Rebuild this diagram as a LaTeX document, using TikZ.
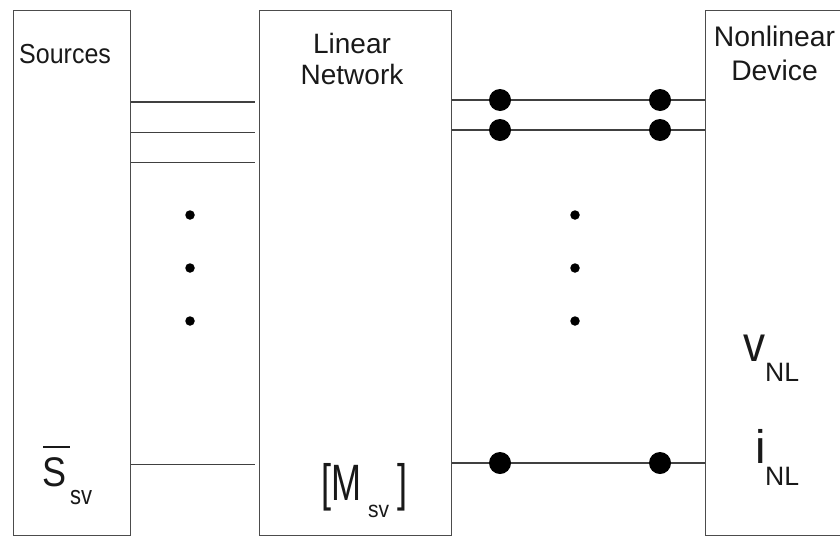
\documentclass[tikz,border=0pt]{standalone}
\usepackage{fontspec}
\setmainfont{Liberation Sans}
\begin{document}
\begin{tikzpicture}[x=1pt,y=-1pt,
  blockbox/.style={draw=black!70,line width=1.3pt,rectangle,inner sep=0pt,anchor=north west},
  wire/.style={draw=black!75,line width=1.3pt},
  bigdot/.style={circle,fill=black,inner sep=0pt,minimum size=22pt},
  smalldot/.style={circle,fill=black,inner sep=0pt,minimum size=9.5pt},
  lbl/.style={inner sep=0pt,anchor=base west,text=black!90},
  title/.style={inner sep=0pt,align=center,text=black!90}]
\useasboundingbox (0,0) rectangle (840,536);
\clip (0,0) rectangle (840,536);
% blocks
\node[blockbox,minimum width=117pt,minimum height=525pt] (src) at (13,10) {};
\node[blockbox,minimum width=192pt,minimum height=525pt] (lin) at (259,10) {};
\node[blockbox,minimum width=160pt,minimum height=525pt] (nld) at (705,10) {};
% titles
\node[lbl,font=\fontsize{25}{30}\selectfont] (tsrc) at (19,63) {\scalebox{1}[1.1]{Sources}};
\node[title,anchor=base,font=\fontsize{28}{31}\selectfont] (tlin) at (352,84) {Linear\\Network};
\node[title,anchor=base,font=\fontsize{28.3}{34}\selectfont] (tnld) at (774.5,80) {Nonlinear\\Device};
% left connectors
\coordinate (l1) at (255,102);
\coordinate (l2) at (255,132.5);
\coordinate (l3) at (255,162.5);
\coordinate (l4) at (255,464.5);
\draw[wire] (src.east |- l1) -- (l1);
\draw[wire] (src.east |- l2) -- (l2);
\draw[wire] (src.east |- l3) -- (l3);
\draw[wire] (src.east |- l4) -- (l4);
% right connectors with dots
\node[bigdot] (a1) at (500,100) {};
\node[bigdot] (b1) at (660,100) {};
\node[bigdot] (a2) at (500,130) {};
\node[bigdot] (b2) at (660,130) {};
\node[bigdot] (a3) at (500,463) {};
\node[bigdot] (b3) at (660,463) {};
\draw[wire] (lin.east |- a1) -- (a1) -- (b1) -- (nld.west |- b1);
\draw[wire] (lin.east |- a2) -- (a2) -- (b2) -- (nld.west |- b2);
\draw[wire] (lin.east |- a3) -- (a3) -- (b3) -- (nld.west |- b3);
% ellipsis dots
\node[smalldot] (d1) at (190,215) {};
\node[smalldot] (d2) at (190,268) {};
\node[smalldot] (d3) at (190,321) {};
\node[smalldot] (e1) at (575,215) {};
\node[smalldot] (e2) at (575,268) {};
\node[smalldot] (e3) at (575,321) {};
% S_sv
\node[lbl,font=\fontsize{36}{40}\selectfont] (sS) at (42,486) {\scalebox{1}[1.15]{S}};
\draw[black!90,line width=2pt] (43,447) -- (70,447);
\node[lbl,font=\fontsize{22}{26}\selectfont] (sSv) at (70,504) {\scalebox{1}[1.2]{sv}};
% [M_sv]
\node[lbl,font=\fontsize{36}{40}\selectfont] (mM) at (321,500) {\scalebox{1}[1.42]{[M}};
\node[lbl,font=\fontsize{21}{25}\selectfont] (mSv) at (368,517) {\scalebox{1}[1.1]{sv}};
\node[lbl,font=\fontsize{36}{40}\selectfont] (mB) at (397,500) {\scalebox{1}[1.42]{]}};
% v_NL, i_NL
\node[lbl,font=\fontsize{44}{48}\selectfont] (vV) at (743,361) {\scalebox{1}[1.14]{v}};
\node[lbl,font=\fontsize{26.6}{30}\selectfont] (vNL) at (765,381) {NL};
\node[lbl,font=\fontsize{47}{50}\selectfont] (iI) at (755,463) {i};
\node[lbl,font=\fontsize{26.6}{30}\selectfont] (iNL) at (765,485) {NL};
\end{tikzpicture}
\end{document}
